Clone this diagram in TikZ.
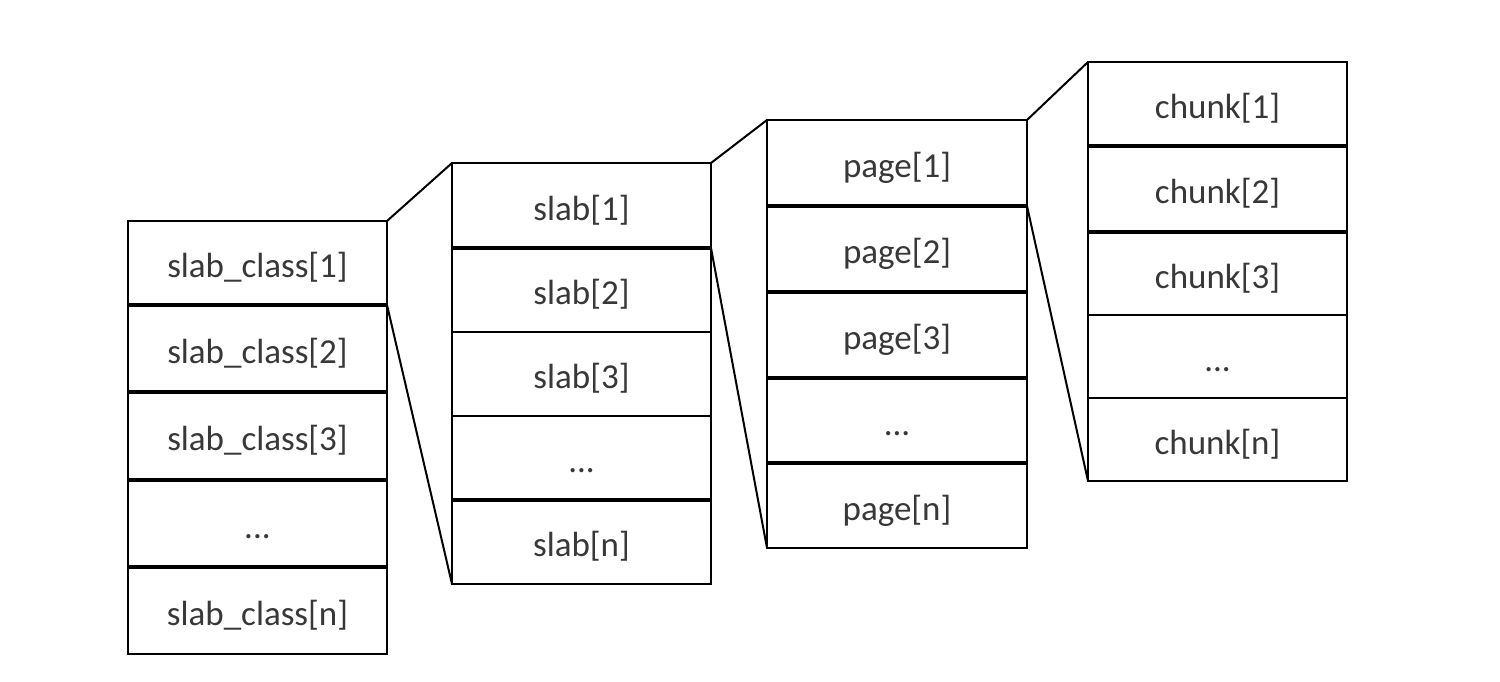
\documentclass[tikz,border=0pt]{standalone}
\usepackage{fontspec}
\setmainfont{Carlito}
\begin{document}
\begin{tikzpicture}[x=1pt,y=-1pt,
  cell/.style={draw=black, line width=2pt, inner sep=0pt, outer sep=0pt, fill=white,
    font=\fontsize{35}{42}\selectfont, text=black!78, text height=29pt, text depth=0pt},
  sep/.style={line width=3.6pt},
  conn/.style={line width=2pt}]
\useasboundingbox (0,0) rectangle (1500,681);
% column 1
\node[cell, minimum width=259pt, minimum height=84pt] (a1) at (257.5,263) {slab\_class[1]};
\node[cell, minimum width=259pt, minimum height=87pt] (a2) at (257.5,348.5) {slab\_class[2]};
\node[cell, minimum width=259pt, minimum height=88pt] (a3) at (257.5,436) {slab\_class[3]};
\node[cell, minimum width=259pt, minimum height=87pt] (a4) at (257.5,523.5) {...};
\node[cell, minimum width=259pt, minimum height=87pt] (a5) at (257.5,610.5) {slab\_class[n]};
% column 2
\node[cell, minimum width=259pt, minimum height=85pt] (b1) at (581.5,205.5) {slab[1]};
\node[cell, minimum width=259pt, minimum height=84pt] (b2) at (581.5,290) {slab[2]};
\node[cell, minimum width=259pt, minimum height=84pt] (b3) at (581.5,374) {slab[3]};
\node[cell, minimum width=259pt, minimum height=84pt] (b4) at (581.5,458) {...};
\node[cell, minimum width=259pt, minimum height=84pt] (b5) at (581.5,542) {slab[n]};
% column 3
\node[cell, minimum width=260pt, minimum height=86pt] (c1) at (897,163) {page[1]};
\node[cell, minimum width=260pt, minimum height=86pt] (c2) at (897,249) {page[2]};
\node[cell, minimum width=260pt, minimum height=86pt] (c3) at (897,335) {page[3]};
\node[cell, minimum width=260pt, minimum height=85pt] (c4) at (897,420.5) {...};
\node[cell, minimum width=260pt, minimum height=85pt] (c5) at (897,505.5) {page[n]};
% column 4
\node[cell, minimum width=259pt, minimum height=84pt] (d1) at (1217.5,104) {chunk[1]};
\node[cell, minimum width=259pt, minimum height=86pt] (d2) at (1217.5,189) {chunk[2]};
\node[cell, minimum width=259pt, minimum height=83pt] (d3) at (1217.5,273.5) {chunk[3]};
\node[cell, minimum width=259pt, minimum height=83pt] (d4) at (1217.5,356.5) {...};
\node[cell, minimum width=259pt, minimum height=83pt] (d5) at (1217.5,439.5) {chunk[n]};
% thicker separators
\foreach \p in {a1,a2,a3,a4} {
  \draw[line width=4.2pt] (\p.south west) -- (\p.south east);
}
\foreach \p in {b1,b4,c1,c2,c3,c4,d1,d2} {
  \draw[sep] (\p.south west) -- (\p.south east);
}
% connectors
\draw[conn] (a1.north east) -- (b1.north west);
\draw[conn] (a1.south east) -- (b5.south west);
\draw[conn] (b1.north east) -- (c1.north west);
\draw[conn] (b1.south east) -- (c5.south west);
\draw[conn] (c1.north east) -- (d1.north west);
\draw[conn] (c1.south east) -- (d5.south west);
\end{tikzpicture}
\end{document}
